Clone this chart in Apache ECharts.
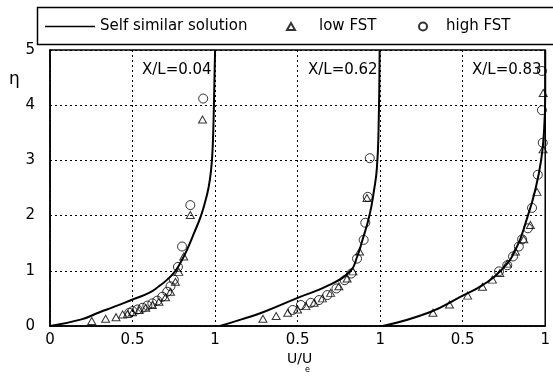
<!DOCTYPE html>
<html>
<head>
<meta charset="utf-8">
<script src="https://cdn.jsdelivr.net/npm/echarts@6/dist/echarts.min.js"></script>
<style>
  html, body { margin: 0; padding: 0; background: #fff; }
  #chart { width: 553px; height: 376px; }
</style>
</head>
<body>
<div id="chart"></div>
<script>
// three panels side by side, each panel spans one unit of U/Ue on a shared x axis
const panelLabels = ['X/L=0.04', 'X/L=0.62', 'X/L=0.83'];
const xTickLabels = ['0', '0.5', '1', '0.5', '1', '0.5', '1'];

// [U/Ue, eta], per panel
const selfSimilar004 = [[0, 0], [0.19, 0.12], [0.30, 0.25], [0.39, 0.35], [0.5, 0.48], [0.6, 0.6], [0.66, 0.72], [0.71, 0.84], [0.76, 1.0], [0.80, 1.2], [0.83, 1.38], [0.875, 1.7], [0.915, 2.0], [0.94, 2.25], [0.96, 2.5], [0.975, 2.8], [0.985, 3.2], [0.993, 4.0], [1.0, 5.0]];
const selfSimilar062 = [[0.03, 0], [0.16, 0.12], [0.29, 0.25], [0.5, 0.51], [0.69, 0.74], [0.82, 1.0], [0.86, 1.25], [0.89, 1.53], [0.935, 2.0], [0.965, 2.5], [0.98, 2.85], [0.99, 3.5], [0.997, 5.0]];
const selfSimilar083 = [[0.015, 0], [0.3, 0.25], [0.5, 0.55], [0.62, 0.74], [0.73, 1.0], [0.82, 1.38], [0.895, 2.0], [0.94, 2.47], [0.975, 3.0], [0.992, 3.5], [1.0, 4.2], [1.0, 5.0]];

const lowFst004 = [[0.253, 0.09], [0.337, 0.13], [0.40, 0.16], [0.44, 0.21], [0.47, 0.22], [0.5, 0.25], [0.54, 0.29], [0.58, 0.33], [0.62, 0.38], [0.66, 0.44], [0.7, 0.52], [0.73, 0.62], [0.76, 0.8], [0.78, 0.98], [0.81, 1.26], [0.85, 2.01], [0.924, 3.74]];
const highFst004 = [[0.48, 0.24], [0.5, 0.27], [0.53, 0.3], [0.56, 0.33], [0.59, 0.37], [0.62, 0.41], [0.65, 0.46], [0.68, 0.53], [0.71, 0.62], [0.73, 0.72], [0.75, 0.84], [0.775, 1.07], [0.8, 1.44], [0.85, 2.19], [0.928, 4.12]];

const lowFst062 = [[0.29, 0.13], [0.37, 0.18], [0.44, 0.24], [0.5, 0.3], [0.55, 0.36], [0.6, 0.42], [0.65, 0.5], [0.7, 0.6], [0.75, 0.72], [0.8, 0.86], [0.835, 0.99], [0.875, 1.35], [0.92, 2.32]];
const highFst062 = [[0.47, 0.29], [0.52, 0.38], [0.58, 0.42], [0.63, 0.47], [0.68, 0.56], [0.735, 0.68], [0.785, 0.83], [0.825, 0.95], [0.86, 1.22], [0.9, 1.56], [0.91, 1.87], [0.925, 2.34], [0.937, 3.04]];

const lowFst083 = [[0.32, 0.24], [0.42, 0.39], [0.53, 0.55], [0.62, 0.71], [0.68, 0.84], [0.725, 0.96], [0.77, 1.13], [0.82, 1.35], [0.87, 1.57], [0.91, 1.83], [0.95, 2.43], [0.987, 3.2], [0.988, 4.22]];
const highFst083 = [[0.72, 0.99], [0.77, 1.1], [0.805, 1.26], [0.84, 1.44], [0.86, 1.57], [0.895, 1.77], [0.92, 2.14], [0.955, 2.74], [0.985, 3.32], [0.98, 3.91], [0.98, 4.62]];

const selfSimilar = [selfSimilar004, selfSimilar062, selfSimilar083];
const lowFst = [lowFst004, lowFst062, lowFst083];
const highFst = [highFst004, highFst062, highFst083];

const FONT = 'DejaVu Sans';
const shift = (arr, k) => arr.map(p => [p[0] + k, p[1]]);

const chart = echarts.init(document.getElementById('chart'));

const series = [];
selfSimilar.forEach((d, k) => series.push({
  name: 'Self similar solution', type: 'line', data: shift(d, k),
  symbol: 'none', smooth: 0.5, z: 3,
  lineStyle: { color: '#000', width: 2 }, itemStyle: { color: '#000' }
}));
series.push({
  name: 'low FST', type: 'scatter', symbol: 'triangle', symbolSize: [8, 7],
  data: lowFst.flatMap((d, k) => shift(d, k)), z: 4,
  itemStyle: { color: 'rgba(0,0,0,0)', borderColor: '#000', borderWidth: 1 }
});
series.push({
  name: 'high FST', type: 'scatter', symbol: 'circle', symbolSize: 9,
  data: highFst.flatMap((d, k) => shift(d, k)), z: 4,
  itemStyle: { color: 'rgba(0,0,0,0)', borderColor: '#000', borderWidth: 1 }
});

const legendText = { fontFamily: FONT, fontSize: 15, color: '#000' };

chart.setOption({
  animation: false,
  backgroundColor: '#fff',
  grid: { left: 50, right: 1, top: 50, bottom: 50, show: true, borderColor: '#000', borderWidth: 1.5 },
  legend: [
    { data: [{ name: 'Self similar solution', icon: 'rect' }], left: 45, top: 19, padding: 0,
      itemWidth: 50, itemHeight: 1.5, textStyle: legendText, selectedMode: false },
    { data: ['low FST'], left: 286, top: 19, padding: 0, itemWidth: 8, itemHeight: 7,
      textStyle: Object.assign({ padding: [0, 0, 0, 19] }, legendText), selectedMode: false },
    { data: ['high FST'], left: 418, top: 19, padding: 0, itemWidth: 8, itemHeight: 8,
      textStyle: Object.assign({ padding: [0, 0, 0, 14] }, legendText), selectedMode: false }
  ],
  xAxis: {
    type: 'value', min: 0, max: 3, interval: 0.5,
    axisLine: { show: true, lineStyle: { color: '#000', width: 1.5 } },
    axisTick: { show: false },
    axisLabel: { margin: 7, color: '#000', fontFamily: FONT, fontSize: 15,
      formatter: v => xTickLabels[Math.round(v / 0.5)] },
    splitLine: { show: true, lineStyle: { color: '#000', width: 1, type: [2, 3] } }
  },
  yAxis: {
    type: 'value', min: 0, max: 5, interval: 1,
    axisLine: { show: true, lineStyle: { color: '#000', width: 1.5 } },
    axisTick: { show: false },
    axisLabel: { margin: 15, color: '#000', fontFamily: FONT, fontSize: 15 },
    splitLine: { show: true, lineStyle: { color: '#000', width: 1, type: [2, 3] } }
  },
  graphic: [
    { type: 'rect', left: 35, top: 5, shape: { width: 540, height: 37 }, style: { fill: 'none', stroke: '#000', lineWidth: 1.5 } },
    { type: 'text', left: 9, top: 71, style: { text: 'η', font: '17px "DejaVu Sans"', fill: '#000' } },
    { type: 'text', left: 287, top: 352, style: { text: 'U/U', font: '14px "DejaVu Sans"', fill: '#000' } },
    { type: 'text', left: 305, top: 366, style: { text: 'e', font: '8px "DejaVu Sans"', fill: '#000' } },
    { type: 'text', left: 142, top: 63, style: { text: panelLabels[0], font: '15px "DejaVu Sans"', fill: '#000' } },
    { type: 'text', left: 308, top: 63, style: { text: panelLabels[1], font: '15px "DejaVu Sans"', fill: '#000' } },
    { type: 'text', left: 472, top: 63, style: { text: panelLabels[2], font: '15px "DejaVu Sans"', fill: '#000' } }
  ],
  series
});
</script>
</body>
</html>
